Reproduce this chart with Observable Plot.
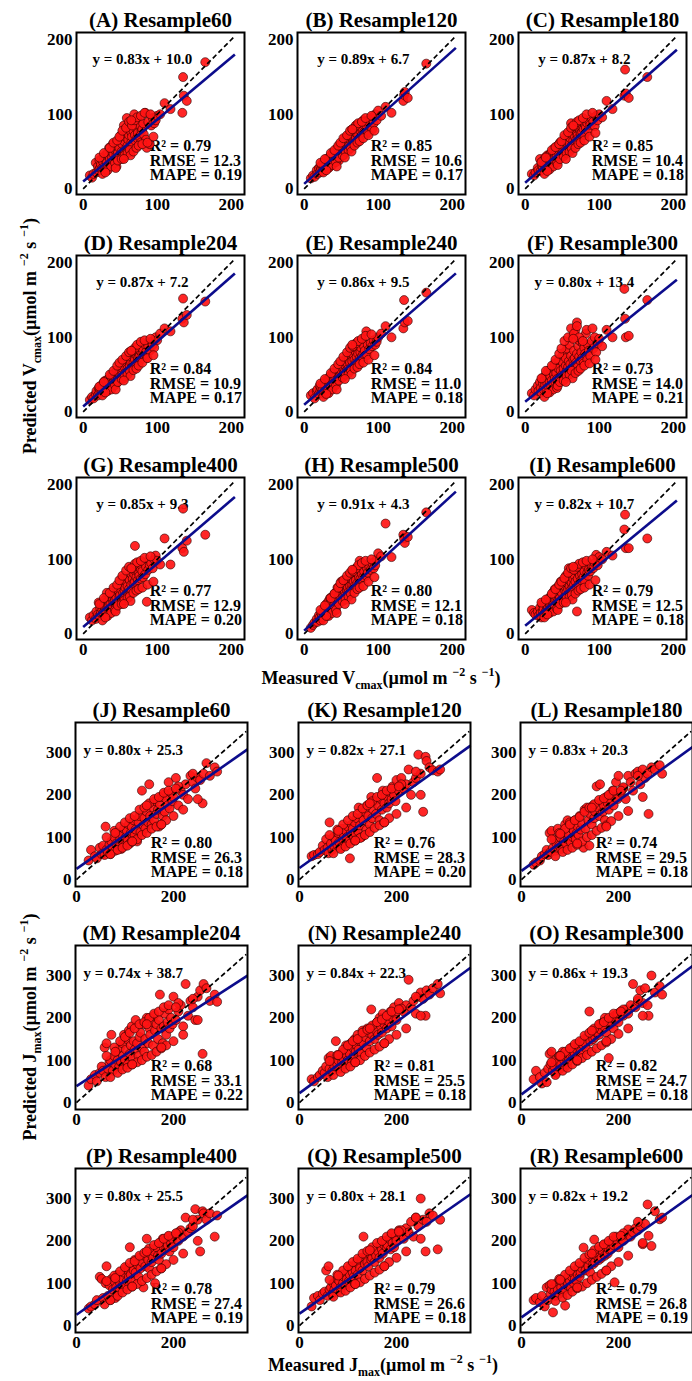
<!DOCTYPE html>
<html><head><meta charset="utf-8">
<script src="https://cdn.jsdelivr.net/npm/d3@7"></script>
<script src="https://cdn.jsdelivr.net/npm/@observablehq/plot@0.6"></script>
<style>
html,body{margin:0;padding:0;background:#fff;overflow:hidden;}
#wrap{position:relative;width:692px;height:1381px;overflow:hidden;background:#fff;font-family:"Liberation Serif","Times New Roman",serif;font-weight:bold;color:#000;}
.panel{position:absolute;}
.lab{position:absolute;font-size:18px;white-space:nowrap;transform:translate(-50%,-50%);line-height:1;}
.lab.rot{transform:translate(-50%,-50%) rotate(-90deg);}
.lab sub{font-size:12px;vertical-align:-5px;line-height:0;}
.lab sup{font-size:12px;vertical-align:8px;line-height:0;margin-left:5px;}
</style></head><body><div id="wrap"></div>
<script>
// ---------- data ----------
const resamples = [60, 120, 180, 204, 240, 300, 400, 500, 600];
const vLetters = ["A","B","C","D","E","F","G","H","I"];
const jLetters = ["J","K","L","M","N","O","P","Q","R"];

const vSlope = [0.83, 0.89, 0.87, 0.87, 0.86, 0.80, 0.85, 0.91, 0.82];
const vIntercept = [10.0, 6.7, 8.2, 7.2, 9.5, 13.4, 9.3, 4.3, 10.7];
const vR2 = [0.79, 0.85, 0.85, 0.84, 0.84, 0.73, 0.77, 0.80, 0.79];
const vRMSE = [12.3, 10.6, 10.4, 10.9, 11.0, 14.0, 12.9, 12.1, 12.5];
const vMAPE = [0.19, 0.17, 0.18, 0.17, 0.18, 0.21, 0.20, 0.18, 0.18];

const jSlope = [0.80, 0.82, 0.83, 0.74, 0.84, 0.86, 0.80, 0.80, 0.82];
const jIntercept = [25.3, 27.1, 20.3, 38.7, 22.3, 19.3, 25.5, 28.1, 19.2];
const jR2 = [0.80, 0.76, 0.74, 0.68, 0.81, 0.82, 0.78, 0.79, 0.79];
const jRMSE = [26.3, 28.3, 29.5, 33.1, 25.5, 24.7, 27.4, 26.6, 26.8];
const jMAPE = [0.18, 0.20, 0.18, 0.22, 0.18, 0.18, 0.19, 0.18, 0.19];

const vTicks = [0, 100, 200];
const jXTicks = [0, 200];
const jYTicks = [0, 100, 200, 300];

// measured Vcmax (shared by panels A–I)
const vMeasured = [9,12,14,17,18,20,21,22,23,24, 25,26,27,28,29,30,30,31,32,33,
  34,35,35,36,37,38,39,40,40,41, 42,43,44,45,45,46,47,48,49,50,
  50,51,52,53,54,55,55,56,57,58, 59,60,60,61,62,63,64,65,65,66,
  67,68,69,70,70,71,72,73,74,75, 76,77,78,79,80,81,82,84,85,86,
  88,90,92,94,96,98,100,104,110,118, 134,135,136,140,165,
  22,26,28,33,36,38,41,43,44,46, 47,49,52,53,56,58,60,62,63,64,
  66,68,70,72,73,75,78,80,83,87, 91,95,30,55,65];

const predA = [18,15,20,35,22,30,25,38,28,33, 40,28,36,42,30,45,24,38,35,48,
  30,44,55,40,33,50,42,60,36,47, 38,52,58,45,30,62,48,40,55,68,
  45,72,50,60,42,85,64,52,70,48, 95,58,80,66,72,50,88,62,76,70,
  60,78,100,72,85,64,82,68,75,90, 70,84,62,78,80,88,73,102,66,55,
  90,60,85,95,88,92,98,100,115,107, 102,150,125,118,170,
  42,20,48,25,55,30,62,35,28,65, 38,70,40,78,45,82,48,90,52,45,
  85,50,92,55,96,58,98,60,102,62, 100,70,22,40,92];
const predB = [14,18,16,25,20,28,22,30,26,32, 24,35,30,26,38,32,40,28,36,30,
  42,36,30,45,38,34,48,40,44,37, 50,40,46,55,42,48,38,58,45,52,
  60,48,55,45,62,52,68,50,58,64, 55,72,62,58,66,75,60,80,68,62,
  70,64,78,85,68,74,80,72,66,82, 78,88,72,80,92,76,85,90,82,75,
  85,95,80,88,100,92,105,98,110,102, 118,126,130,122,168,
  35,22,40,28,48,32,52,36,30,58, 42,62,45,68,50,72,52,78,55,50,
  80,58,85,62,88,64,90,68,95,72, 98,78,25,42,80];
const predC = [20,18,22,28,25,40,24,35,30,28, 38,32,42,30,36,45,28,40,34,46,
  38,48,35,44,40,52,36,55,46,42, 50,44,58,40,52,47,62,45,55,50,
  60,52,48,65,56,70,50,62,58,66, 55,75,62,68,88,58,72,65,78,60,
  70,80,66,75,85,72,68,82,78,74, 84,76,90,80,72,86,82,88,78,92,
  86,95,90,84,98,92,100,96,118,107, 125,160,128,122,150,
  36,20,42,26,52,30,56,35,32,60, 40,64,44,72,48,76,50,82,54,48,
  84,55,90,60,92,62,95,65,100,70, 102,75,24,40,85];
const predD = [16,20,18,24,28,22,32,26,30,35, 28,36,32,40,26,34,42,30,38,36,
  44,32,40,36,48,42,38,50,34,45, 40,52,46,38,55,48,44,58,50,54,
  48,56,62,50,58,45,66,60,52,70, 64,58,72,55,68,62,75,66,80,60,
  72,66,78,70,82,64,76,85,72,80, 74,82,70,86,78,84,76,90,80,72,
  88,82,94,90,86,100,96,105,112,108, 125,152,120,130,148,
  34,22,40,28,50,30,55,36,30,62, 40,66,44,70,48,75,50,80,55,48,
  82,56,86,58,90,62,94,66,96,72, 98,76,26,42,82];
const predE = [22,25,18,28,30,24,35,28,32,26, 30,38,24,35,42,28,36,40,32,45,
  38,42,48,34,46,40,52,44,38,50, 46,55,40,50,60,44,54,48,62,52,
  56,48,65,58,52,68,54,62,72,56, 64,70,58,78,66,82,60,74,68,85,
  76,70,88,66,80,74,84,78,90,72, 80,86,74,92,78,88,82,108,76,90,
  84,92,88,96,90,94,100,105,115,100, 112,150,120,122,160,
  38,20,44,25,52,30,58,36,30,64, 42,68,46,74,50,80,52,86,56,50,
  88,58,92,60,95,64,98,66,102,70, 104,76,24,44,90];
const predF = [25,22,30,35,28,40,32,26,45,38, 30,42,36,50,28,45,38,55,34,40,
  48,35,56,42,60,38,50,45,65,40, 52,44,62,38,58,70,46,55,48,75,
  50,66,58,80,45,62,72,54,85,60, 68,52,90,64,75,58,100,70,62,82,
  72,110,66,78,120,60,88,74,95,68, 80,72,92,65,86,78,105,70,90,82,
  75,95,85,100,80,92,98,88,110,100, 165,125,100,102,150,
  45,20,55,26,62,30,70,32,35,78, 40,85,42,95,48,100,50,112,55,45,
  105,52,115,55,100,58,95,62,110,65, 112,70,25,40,98];
const predG = [22,18,25,20,30,26,42,24,35,28, 40,32,28,38,45,34,30,42,55,36,
  44,38,32,48,40,52,36,46,58,42, 50,45,38,55,48,62,42,58,50,65,
  52,60,46,74,55,48,68,58,62,52, 70,56,64,75,60,72,54,80,66,58,
  74,68,80,118,70,84,76,90,72,82, 78,88,74,92,84,76,96,80,90,43,
  86,92,95,88,100,105,98,93,128,93, 115,168,110,125,133,
  40,18,48,24,55,28,62,32,30,66, 38,72,40,78,45,85,48,90,50,44,
  88,55,94,58,96,60,98,62,102,66, 104,70,22,40,88];
const predH = [8,12,15,20,16,25,22,18,28,24, 30,22,35,26,32,40,28,36,30,44,
  32,40,48,36,42,34,50,38,46,54, 40,48,56,44,62,50,45,58,52,70,
  48,55,60,50,72,56,64,52,68,58, 62,75,56,70,64,80,60,72,66,85,
  70,64,78,82,72,88,68,80,76,98, 74,86,80,90,76,84,92,78,88,82,
  90,86,95,88,92,100,108,104,148,103, 133,128,122,130,163,
  32,18,38,24,48,28,54,32,28,62, 40,68,44,72,46,78,50,82,54,46,
  84,55,88,60,92,62,95,64,98,70, 100,76,24,40,86];
const predI = [32,28,26,30,24,35,28,22,40,30, 34,26,42,30,38,45,32,36,48,40,
  38,46,35,52,42,56,40,48,60,44, 50,42,58,46,64,52,48,70,56,62,
  54,66,48,72,58,62,78,56,68,60, 88,64,72,58,80,68,62,85,74,66,
  78,70,90,30,84,74,66,82,78,86, 72,80,88,76,84,70,92,82,78,86,
  84,90,88,95,106,92,103,100,110,105, 140,160,115,115,128,
  42,22,46,28,54,30,60,34,32,66, 40,70,42,75,48,82,50,88,52,46,
  86,54,90,58,94,60,96,62,98,66, 100,72,26,42,90];

// measured Jmax (shared by panels J–R)
const jMeasured = [25,30,38,42,48,52,55,58,60,62, 65,68,70,72,75,78,80,82,85,88,
  90,92,95,96,98,100,102,104,106,108, 110,112,114,116,118,120,122,125,128,130,
  132,135,138,140,142,145,148,150,152,155, 158,160,162,165,168,170,172,175,178,180,
  182,185,188,190,192,195,198,200,205,210, 215,220,225,230,235,240,245,250,255,260,
  262,268,275,285,290,
  62,70,78,85,90,95,100,105,110,115, 120,125,130,135,140,145,150,155,160,165,
  170,175,180,185,190,200,210,220,240,250, 80,115,145,175,205];

const predJ = [45,70,55,50,75,60,80,58,125,70, 65,82,60,90,75,100,68,85,110,78,
  95,72,105,88,120,80,100,115,92,130, 85,110,125,98,140,105,118,90,135,150,
  112,210,128,145,120,160,135,225,150,130, 170,140,185,155,165,125,178,195,150,200,
  160,190,175,230,168,205,185,195,240,175, 210,200,225,190,245,230,215,240,235,180,
  250,275,245,265,255,
  100,60,115,70,125,75,135,80,145,90, 150,95,165,105,170,110,180,120,190,125,
  195,130,205,140,210,150,220,165,250,190, 110,90,175,130,215];
const predK = [55,58,60,65,80,70,95,75,62,135, 85,70,100,78,92,82,110,88,75,120,
  95,105,85,115,100,125,90,50,110,130, 120,98,135,108,145,115,170,128,100,150,
  140,160,118,175,150,130,195,145,165,185, 155,240,175,140,190,165,210,180,200,170,
  195,180,205,190,220,200,185,235,210,240, 215,225,260,200,230,240,295,250,160,290,
  280,265,258,255,260,
  105,62,118,72,130,78,140,85,150,92, 155,98,168,105,175,112,185,122,195,128,
  200,135,210,145,215,155,225,170,255,200, 115,92,180,135,220];
const predL = [35,40,45,55,60,70,58,110,65,115, 75,95,68,85,120,80,100,72,110,90,
  130,85,140,95,105,135,88,120,100,115, 140,95,110,125,105,150,118,132,75,165,
  120,170,140,80,155,130,175,145,160,220, 170,150,225,185,160,175,140,195,180,165,
  200,185,210,175,195,230,190,245,205,215, 190,245,230,210,250,255,225,260,240,250,
  155,265,260,270,250,
  95,55,110,65,120,70,130,75,140,82, 148,90,160,100,170,105,178,115,188,122,
  192,128,200,138,210,150,218,162,245,195, 108,85,170,125,210];
const predM = [40,55,65,50,70,85,75,130,60,140, 80,95,100,160,75,110,90,120,100,85,
  130,95,140,110,160,100,125,150,90,170, 115,135,180,105,145,125,195,140,110,155,
  165,130,185,120,150,200,140,175,160,190, 135,205,170,185,150,195,255,175,140,180,
  210,160,190,220,175,200,185,250,195,215, 230,180,280,205,240,225,195,250,265,115,
  280,270,240,255,238,
  110,60,130,70,145,78,155,82,165,90, 175,95,185,100,190,108,200,112,210,120,
  215,128,225,135,230,145,235,160,245,195, 120,90,185,130,225];
const predN = [55,50,60,65,75,70,85,60,105,80, 110,75,95,85,145,90,100,80,115,95,
  105,120,90,135,110,100,125,115,140,95, 130,110,150,120,135,160,125,145,115,170,
  140,155,130,175,165,145,220,160,180,150, 170,190,160,200,180,165,210,185,195,175,
  205,190,215,180,200,225,210,195,235,220, 215,230,290,225,240,210,250,260,245,205,
  265,255,270,280,258,
  98,65,112,72,125,80,135,85,145,95, 150,100,165,110,172,118,182,125,190,132,
  196,140,205,150,215,160,222,175,250,205, 112,95,175,140,220];
const predO = [55,75,60,45,70,48,80,115,90,120, 75,85,100,70,95,110,80,90,120,100,
  85,105,95,115,100,125,110,130,105,120, 115,135,125,110,140,130,120,145,135,150,
  140,125,155,215,145,160,150,170,155,165, 175,160,185,170,190,180,200,165,190,105,
  195,185,200,175,205,195,210,190,215,205, 220,210,230,280,225,240,265,235,270,230,
  205,300,260,275,255,
  95,65,110,75,120,82,128,90,138,98, 145,105,158,112,165,120,175,128,185,135,
  190,142,200,150,210,162,220,175,245,205, 110,100,170,145,215];
const predP = [40,45,50,60,115,110,65,50,100,140, 70,95,60,110,85,105,65,90,120,80,
  100,115,95,110,125,90,135,105,130,115, 185,120,105,140,130,155,125,145,115,160,
  135,150,90,165,140,205,155,135,170,150, 160,175,100,185,165,155,195,170,205,185,
  200,180,190,210,175,195,205,185,215,200, 225,210,255,220,230,235,275,250,175,270,
  265,250,265,210,260,
  105,60,118,70,128,78,138,85,148,92, 152,98,165,105,172,112,182,120,190,128,
  195,135,205,145,212,155,220,170,250,200, 112,92,175,135,218];
const predQ = [45,65,70,60,75,80,130,70,140,85, 90,75,100,85,95,110,80,105,90,120,
  100,115,95,125,110,130,105,120,140,100, 125,115,140,130,150,120,145,135,160,130,
  210,145,165,150,140,170,155,160,175,150, 165,185,175,160,195,180,170,190,200,185,
  190,205,180,215,195,185,210,200,225,215, 205,230,220,245,210,255,235,300,250,175,
  245,265,260,180,250,
  108,68,120,78,130,82,140,90,150,98, 158,102,170,110,176,118,185,125,195,132,
  200,140,210,150,218,160,225,175,255,205, 118,98,178,140,222];
const predR = [60,65,55,70,45,90,60,95,75,85, 31,80,70,100,85,75,105,90,80,100,
  47,110,95,100,120,105,90,115,125,100, 110,130,105,120,140,115,125,135,184,145,
  130,150,140,155,125,160,145,203,150,165, 170,155,180,160,175,190,165,185,170,180,
  195,180,200,190,102,210,195,185,205,200, 215,227,210,220,230,225,235,192,240,286,
  212,188,270,251,255,
  98,58,110,66,120,72,130,80,140,88, 148,92,160,100,168,108,178,115,186,122,
  192,130,200,140,210,150,218,165,245,195, 108,90,170,130,212];

const vPredicted = [predA, predB, predC, predD, predE, predF, predG, predH, predI];
const jPredicted = [predJ, predK, predL, predM, predN, predO, predP, predQ, predR];

// ---------- drawing ----------
const wrap = document.getElementById("wrap");
const FONT = '"Liberation Serif", "Times New Roman", serif';

function drawPanel(cfg) {
  const ML = 45, MR = 12, MT = 32, MB = 28;
  const n = Math.min(cfg.meas.length, cfg.pred.length);
  const pts = [];
  for (let i = 0; i < n; i++) pts.push({m: cfg.meas[i], p: cfg.pred[i]});
  const fit = [{x1: 0, y1: cfg.icpt, x2: cfg.fitEnd, y2: cfg.slope * cfg.fitEnd + cfg.icpt}];
  const diag = [{x1: 0, y1: 0, x2: cfg.diagEnd, y2: cfg.diagEnd}];
  const eq = `y = ${cfg.slope.toFixed(2)}x + ${cfg.icpt.toFixed(1)}`;
  const stats = `R\u00B2 = ${cfg.r2.toFixed(2)}\nRMSE = ${cfg.rmse.toFixed(1)}\nMAPE = ${cfg.mape.toFixed(2)}`;
  const W = ML + cfg.fw + MR, H = MT + cfg.fh + MB;
  const svg = Plot.plot({
    width: W, height: H,
    marginLeft: ML, marginRight: MR, marginTop: MT, marginBottom: MB,
    x: {domain: cfg.xDomain},
    y: {domain: cfg.yDomain},
    style: {fontFamily: FONT, fontWeight: "bold", fontSize: "17px", color: "black",
            background: "transparent", overflow: "visible", maxWidth: "none"},
    marks: [
      Plot.axisX({ticks: cfg.xTicks, tickSize: 0, tickPadding: 3, label: null}),
      Plot.axisY({ticks: cfg.yTicks, tickSize: 0, tickPadding: 4, label: null}),
      Plot.text([eq], {x: cfg.eqX, y: cfg.eqY, text: d => d, fontSize: 15, fontFamily: FONT, fontWeight: "bold", textAnchor: "middle"}),
      Plot.text([stats], {x: cfg.stX, y: cfg.stY, text: d => d, fontSize: 16, fontFamily: FONT, fontWeight: "bold", textAnchor: "start", lineAnchor: "middle", lineHeight: 0.9}),
      Plot.dot(pts, {x: "m", y: "p", r: 4.5, fill: "#ff1414", fillOpacity: 0.92, stroke: "#2a0000", strokeWidth: 0.6}),
      Plot.link(diag, {x1: "x1", y1: "y1", x2: "x2", y2: "y2", stroke: "black", strokeWidth: 1.7, strokeDasharray: "5,3"}),
      Plot.link(fit, {x1: "x1", y1: "y1", x2: "x2", y2: "y2", stroke: "#0c0c8c", strokeWidth: 2.6}),
      Plot.frame({stroke: "black", strokeWidth: 2}),
      Plot.text([cfg.title], {frameAnchor: "top", dy: -12, text: d => d, fontSize: 21, fontFamily: FONT, fontWeight: "bold", lineAnchor: "middle"})
    ]
  });
  const div = document.createElement("div");
  div.className = "panel";
  div.style.left = (cfg.left - ML) + "px";
  div.style.top = (cfg.top - MT) + "px";
  div.style.width = W + "px";
  div.style.height = H + "px";
  div.appendChild(svg);
  wrap.appendChild(div);
}

const vLefts = [76, 297, 518], vTops = [32, 255, 477];
const jLefts = [75, 297.5, 520], jTops = [722, 945, 1168];

for (let k = 0; k < 9; k++) {
  drawPanel({
    meas: vMeasured, pred: vPredicted[k],
    title: `(${vLetters[k]}) Resample${resamples[k]}`,
    slope: vSlope[k], icpt: vIntercept[k], r2: vR2[k], rmse: vRMSE[k], mape: vMAPE[k],
    xDomain: [-9, 218], yDomain: [-7.6, 209.8], xTicks: vTicks, yTicks: vTicks,
    fw: 168, fh: 162, fitEnd: 205, diagEnd: 205,
    eqX: 80, eqY: 174, stX: 90, stY: 37,
    left: vLefts[k % 3], top: vTops[Math.floor(k / 3)]
  });
  drawPanel({
    meas: jMeasured, pred: jPredicted[k],
    title: `(${jLetters[k]}) Resample${resamples[k]}`,
    slope: jSlope[k], icpt: jIntercept[k], r2: jR2[k], rmse: jRMSE[k], mape: jMAPE[k],
    xDomain: [-2, 352.6], yDomain: [-16.5, 371], xTicks: jXTicks, yTicks: jYTicks,
    fw: 172, fh: 164, fitEnd: 352.6, diagEnd: 350,
    eqX: 117, eqY: 305, stX: 153, stY: 51,
    left: jLefts[k % 3], top: jTops[Math.floor(k / 3)]
  });
}

function addLabel(html, x, y, rot) {
  const d = document.createElement("div");
  d.className = "lab" + (rot ? " rot" : "");
  d.style.left = x + "px";
  d.style.top = y + "px";
  d.innerHTML = html;
  wrap.appendChild(d);
}
const unitHtml = "(\u00B5mol m<sup>\u22122</sup> s<sup>\u22121</sup>)";
addLabel("Predicted V<sub>cmax</sub>" + unitHtml, 30, 336, true);
addLabel("Measured V<sub>cmax</sub>" + unitHtml, 381, 678, false);
addLabel("Predicted J<sub>max</sub>" + unitHtml, 30, 1027, true);
addLabel("Measured J<sub>max</sub>" + unitHtml, 383, 1365, false);
</script>
</body></html>
